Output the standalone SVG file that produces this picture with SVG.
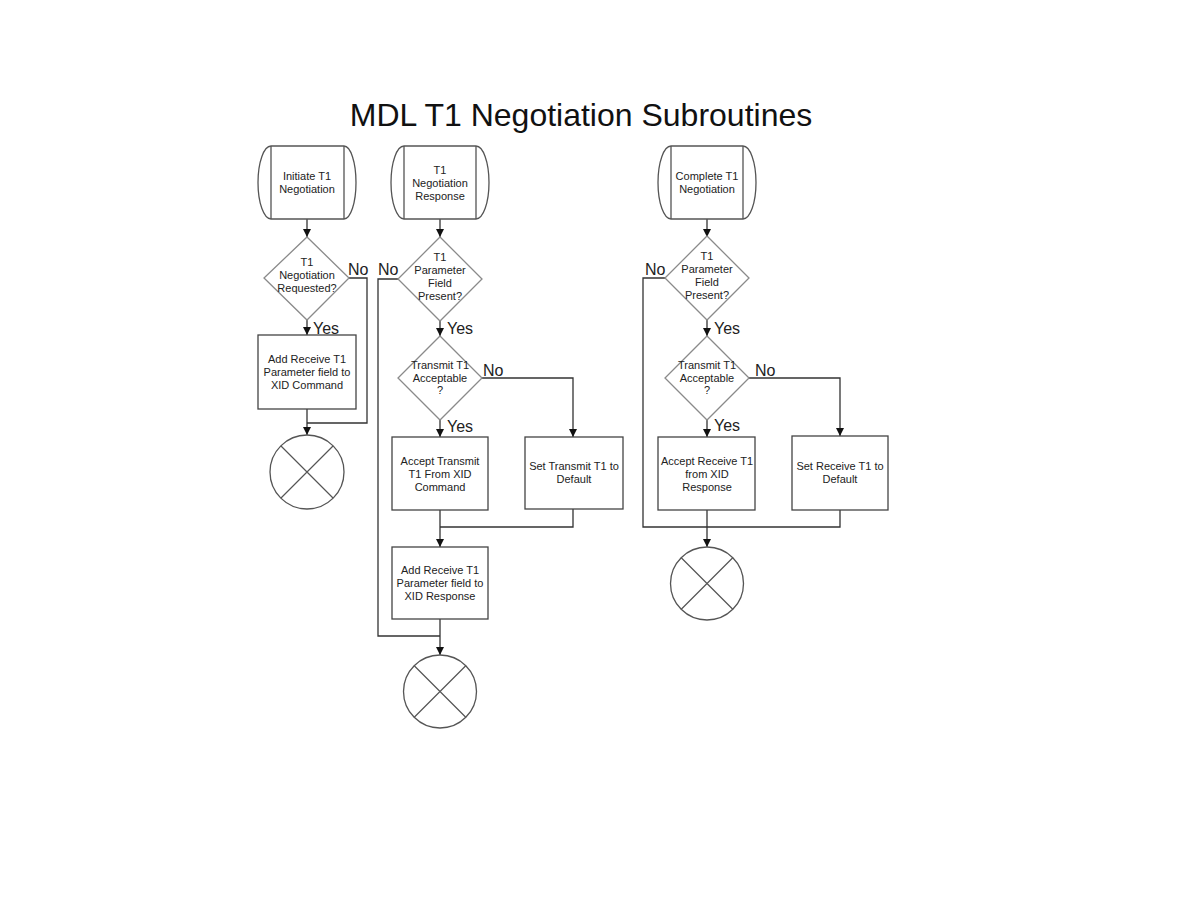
<svg xmlns="http://www.w3.org/2000/svg" width="1188" height="918" viewBox="0 0 1188 918">
<style>
.bg{fill:#ffffff}
.title{font-family:"Liberation Sans",Arial,sans-serif;font-size:32px;fill:#111111}
.t{font-family:"Liberation Sans",Arial,sans-serif;font-size:11px;fill:#222222;text-anchor:middle}
.lbl{font-family:"Liberation Sans",Arial,sans-serif;font-size:16px;fill:#222222}
.box{fill:#ffffff;stroke:#444444;stroke-width:1.3}
.dia{fill:#ffffff;stroke:#8a8a8a;stroke-width:1.3}
.term{fill:#ffffff;stroke:#555555;stroke-width:1.3}
.end{fill:#ffffff;stroke:#555555;stroke-width:1.3}
.xl{stroke:#555555;stroke-width:1.2;fill:none}
.c{fill:none;stroke:#333333;stroke-width:1.3}
</style>
<defs>
<marker id="arr" viewBox="0 0 8 8" refX="8" refY="4" markerWidth="8" markerHeight="8" markerUnits="userSpaceOnUse" orient="auto">
<path d="M0,0 L8,4 L0,8 Z" fill="#111111"/>
</marker>
</defs>
<rect class="bg" x="0" y="0" width="1188" height="918"/>
<text class="title" x="581" y="126" text-anchor="middle">MDL T1 Negotiation Subroutines</text>

<g id="connectors">
<!-- flow 1 -->
<path class="c" d="M307,219 V237" marker-end="url(#arr)"/>
<path class="c" d="M307,320 V335" marker-end="url(#arr)"/>
<path class="c" d="M349,278 H367 V423 H307"/>
<path class="c" d="M307,409 V435" marker-end="url(#arr)"/>
<!-- flow 2 -->
<path class="c" d="M440,219 V237" marker-end="url(#arr)"/>
<path class="c" d="M440,321 V336" marker-end="url(#arr)"/>
<path class="c" d="M440,420 V437" marker-end="url(#arr)"/>
<path class="c" d="M482,378 H573 V437" marker-end="url(#arr)"/>
<path class="c" d="M440,510 V547" marker-end="url(#arr)"/>
<path class="c" d="M573,509 V527 H440"/>
<path class="c" d="M398,279 H378 V636 H440"/>
<path class="c" d="M440,619 V655" marker-end="url(#arr)"/>
<!-- flow 3 -->
<path class="c" d="M707,219 V237" marker-end="url(#arr)"/>
<path class="c" d="M707,320 V336" marker-end="url(#arr)"/>
<path class="c" d="M707,420 V437" marker-end="url(#arr)"/>
<path class="c" d="M749,378 H840 V436" marker-end="url(#arr)"/>
<path class="c" d="M840,510 V527 H643 V278 H665"/>
<path class="c" d="M707,510 V547" marker-end="url(#arr)"/>
</g>

<g id="labels">
<text class="lbl" x="348" y="275">No</text>
<text class="lbl" x="313" y="334">Yes</text>
<text class="lbl" x="378" y="275">No</text>
<text class="lbl" x="447" y="334">Yes</text>
<text class="lbl" x="483" y="376">No</text>
<text class="lbl" x="447" y="432">Yes</text>
<text class="lbl" x="645" y="275">No</text>
<text class="lbl" x="714" y="334">Yes</text>
<text class="lbl" x="755" y="376">No</text>
<text class="lbl" x="714" y="431">Yes</text>
</g>

<g id="start1">
<path class="term" d="M271,146 H344 A12,36.5 0 0 1 344,219 H271 A13,36.5 0 0 1 271,146 Z"/>
<path class="term" d="M271,146 V219 M344,146 V219"/>
<text class="t" x="307" y="180">Initiate T1</text>
<text class="t" x="307" y="193">Negotiation</text>
</g>
<g id="dec1">
<path class="dia" d="M307,237 L349,278 L307,320 L264,278 Z"/>
<text class="t" x="307" y="266">T1</text>
<text class="t" x="307" y="279">Negotiation</text>
<text class="t" x="307" y="292">Requested?</text>
</g>
<g id="box1">
<rect class="box" x="258" y="335" width="98" height="74"/>
<text class="t" x="307" y="363">Add Receive T1</text>
<text class="t" x="307" y="376">Parameter field to</text>
<text class="t" x="307" y="389">XID Command</text>
</g>
<g id="end1">
<circle class="end" cx="307" cy="472" r="37"/>
<path class="xl" d="M281,446 L333,498 M333,446 L281,498"/>
</g>

<g id="start2">
<path class="term" d="M404,146 H476 A13,36.5 0 0 1 476,219 H404 A13,36.5 0 0 1 404,146 Z"/>
<path class="term" d="M404,146 V219 M476,146 V219"/>
<text class="t" x="440" y="174">T1</text>
<text class="t" x="440" y="187">Negotiation</text>
<text class="t" x="440" y="200">Response</text>
</g>
<g id="dec2">
<path class="dia" d="M440,237 L482,279 L440,321 L398,279 Z"/>
<text class="t" x="440" y="261">T1</text>
<text class="t" x="440" y="274">Parameter</text>
<text class="t" x="440" y="287">Field</text>
<text class="t" x="440" y="300">Present?</text>
</g>
<g id="dec3">
<path class="dia" d="M440,336 L482,378 L440,420 L398,378 Z"/>
<text class="t" x="440" y="369">Transmit T1</text>
<text class="t" x="440" y="382">Acceptable</text>
<text class="t" x="440" y="394">?</text>
</g>
<g id="box2">
<rect class="box" x="392" y="437" width="96" height="73"/>
<text class="t" x="440" y="465">Accept Transmit</text>
<text class="t" x="440" y="478">T1 From XID</text>
<text class="t" x="440" y="491">Command</text>
</g>
<g id="box3">
<rect class="box" x="525" y="437" width="98" height="72"/>
<text class="t" x="574" y="470">Set Transmit T1 to</text>
<text class="t" x="574" y="483">Default</text>
</g>
<g id="box4">
<rect class="box" x="392" y="547" width="96" height="72"/>
<text class="t" x="440" y="574">Add Receive T1</text>
<text class="t" x="440" y="587">Parameter field to</text>
<text class="t" x="440" y="600">XID Response</text>
</g>
<g id="end2">
<circle class="end" cx="440" cy="691.5" r="36.5"/>
<path class="xl" d="M414,665.5 L466,717.5 M466,665.5 L414,717.5"/>
</g>

<g id="start3">
<path class="term" d="M671,146 H743 A13,36.5 0 0 1 743,219 H671 A13,36.5 0 0 1 671,146 Z"/>
<path class="term" d="M671,146 V219 M743,146 V219"/>
<text class="t" x="707" y="180">Complete T1</text>
<text class="t" x="707" y="193">Negotiation</text>
</g>
<g id="dec4">
<path class="dia" d="M707,236 L749,278 L707,320 L665,278 Z"/>
<text class="t" x="707" y="260">T1</text>
<text class="t" x="707" y="273">Parameter</text>
<text class="t" x="707" y="286">Field</text>
<text class="t" x="707" y="299">Present?</text>
</g>
<g id="dec5">
<path class="dia" d="M707,336 L749,378 L707,420 L665,378 Z"/>
<text class="t" x="707" y="369">Transmit T1</text>
<text class="t" x="707" y="382">Acceptable</text>
<text class="t" x="707" y="394">?</text>
</g>
<g id="box5">
<rect class="box" x="658" y="437" width="97" height="73"/>
<text class="t" x="707" y="465">Accept Receive T1</text>
<text class="t" x="707" y="478">from XID</text>
<text class="t" x="707" y="491">Response</text>
</g>
<g id="box6">
<rect class="box" x="792" y="436" width="96" height="74"/>
<text class="t" x="840" y="470">Set Receive T1 to</text>
<text class="t" x="840" y="483">Default</text>
</g>
<g id="end3">
<circle class="end" cx="707" cy="583.5" r="36.5"/>
<path class="xl" d="M681,557.5 L733,609.5 M733,557.5 L681,609.5"/>
</g>
</svg>
